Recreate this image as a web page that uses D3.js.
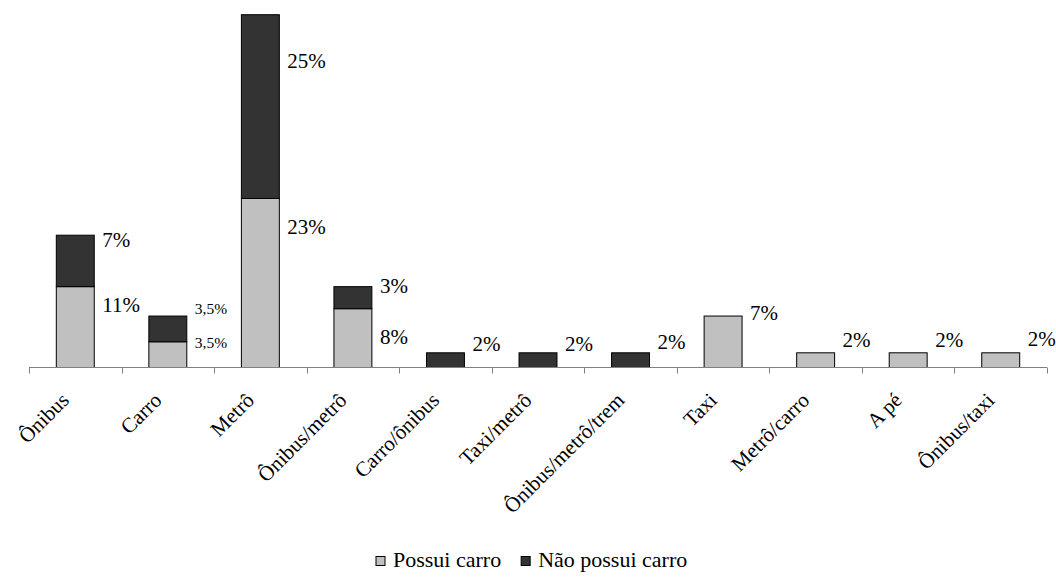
<!DOCTYPE html>
<html>
<head>
<meta charset="utf-8">
<script src="https://cdn.jsdelivr.net/npm/d3@7"></script>
<style>
  html, body { margin: 0; padding: 0; background: #fff; }
  svg { display: block; }
</style>
</head>
<body>
<svg id="chart" width="1056" height="580" font-family="'Liberation Serif', 'Times New Roman', serif"></svg>
<script>
// Meio de transporte por posse de carro (%)
const categories = ["Ônibus", "Carro", "Metrô", "Ônibus/metrô", "Carro/ônibus", "Taxi/metrô",
  "Ônibus/metrô/trem", "Taxi", "Metrô/carro", "A pé", "Ônibus/taxi"];
const possuiCarro = [11, 3.5, 23, 8, 0, 0, 0, 7, 2, 2, 2];
const naoPossuiCarro = [7, 3.5, 25, 3, 2, 2, 2, 0, 0, 0, 0];
const seriesNames = ["Possui carro", "Não possui carro"];

const colors = ["#c0c0c0", "#333333"];
const fmt = v => String(v).replace(".", ",") + "%";

const svg = d3.select("#chart");
const left = 29, right = 1047, baseY = 367.5, topY = 14.7;
const fontSize = 21, smallFontSize = 15.5;

const x = d3.scaleBand().domain(categories).range([left, right])
  .paddingInner(0.59).paddingOuter(0.295);
const y = d3.scaleLinear().domain([0, 48]).range([baseY, topY]);

// stacked layout
const rows = categories.map((c, i) => ({ cat: c, p: possuiCarro[i], n: naoPossuiCarro[i] }));
const stack = d3.stack().keys(["p", "n"])(rows);

// label baseline offsets (px) relative to the top of each segment
const labelDy = {
  p: [25, 6, 36, 35, 0, 0, 0, 4, -6, -6, -7],
  n: [12, -2, 53, 6, -2, -2, -4, 0, 0, 0, 0]
};
const smallLabel = v => v % 1 !== 0;

stack.forEach((layer, li) => {
  const key = layer.key;
  const g = svg.append("g");
  g.selectAll("rect").data(layer.filter(d => d[1] - d[0] > 0)).enter().append("rect")
    .attr("x", d => x(d.data.cat))
    .attr("width", x.bandwidth())
    .attr("y", d => y(d[1]))
    .attr("height", d => y(d[0]) - y(d[1]))
    .attr("fill", colors[li])
    .attr("stroke", "#000")
    .attr("stroke-width", 1);

  g.selectAll("text").data(layer.filter(d => d[1] - d[0] > 0)).enter().append("text")
    .attr("x", d => x(d.data.cat) + x.bandwidth() + 8)
    .attr("y", d => y(d[1]) + labelDy[key][categories.indexOf(d.data.cat)])
    .attr("font-size", d => smallLabel(d.data[key]) ? smallFontSize : fontSize)
    .text(d => fmt(d.data[key]));
});

// category axis
const axis = svg.append("g");
axis.append("line")
  .attr("x1", left).attr("x2", right).attr("y1", baseY).attr("y2", baseY)
  .attr("stroke", "#808080").attr("stroke-width", 1);
const step = x.step();
const bounds = categories.map(c => x(c) - (step - x.bandwidth()) / 2).concat([right]);
axis.selectAll(".tick").data(bounds).enter().append("line")
  .attr("x1", d => Math.round(d) + 0.5).attr("x2", d => Math.round(d) + 0.5)
  .attr("y1", baseY).attr("y2", baseY + 6)
  .attr("stroke", "#808080").attr("stroke-width", 1);

axis.selectAll(".cat").data(categories).enter().append("text")
  .attr("transform", c => `translate(${x(c) + x.bandwidth() / 2 - 5},${baseY + 34}) rotate(-45)`)
  .attr("text-anchor", "end")
  .attr("font-size", fontSize)
  .text(c => c);

// legend
const legend = svg.append("g").attr("transform", "translate(376,567)");
const items = legend.selectAll("g").data(seriesNames).enter().append("g");
items.append("rect").attr("width", 9).attr("height", 9).attr("y", -10.5)
  .attr("fill", (d, i) => colors[i]).attr("stroke", "#000").attr("stroke-width", 1);
items.append("text").attr("x", 17).attr("font-size", 22).text(d => d);
let off = 0;
items.each(function () {
  d3.select(this).attr("transform", `translate(${off},0)`);
  off += this.getBBox().width + 20;
});
</script>
</body>
</html>
